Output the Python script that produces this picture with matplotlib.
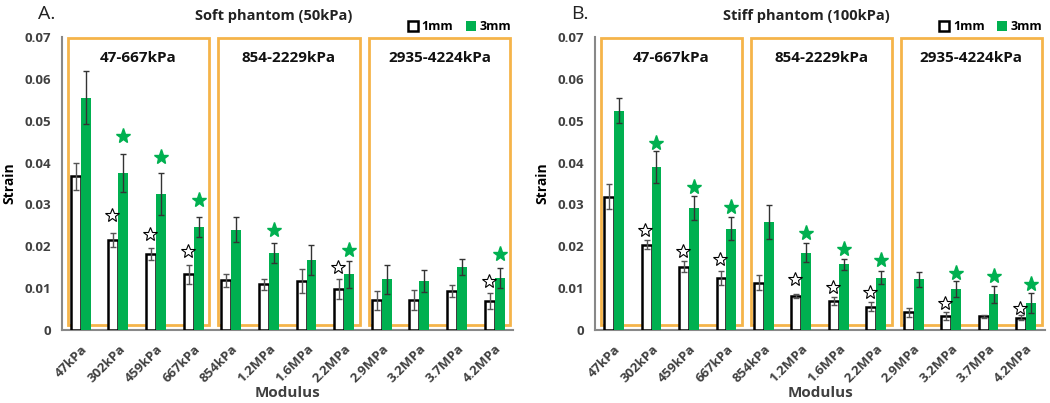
import numpy as np
import matplotlib.pyplot as plt

plt.rcParams['font.family'] = ['Open Sans', 'DejaVu Sans']

# categories
moduli = ['47kPa', '302kPa', '459kPa', '667kPa', '854kPa', '1.2MPa',
          '1.6MPa', '2.2MPa', '2.9MPa', '3.2MPa', '3.7MPa', '4.2MPa']
groups = ['47-667kPa', '854-2229kPa', '2935-4224kPa']

# soft phantom (50kPa)
soft_1mm = [0.0367, 0.0216, 0.0181, 0.0133, 0.0119, 0.0109,
            0.0117, 0.0098, 0.0071, 0.0071, 0.0093, 0.0070]
soft_1mm_err = [0.0033, 0.0017, 0.0014, 0.0022, 0.0015, 0.0013,
                0.0028, 0.0023, 0.0023, 0.0024, 0.0014, 0.0019]
soft_3mm = [0.0555, 0.0375, 0.0325, 0.0246, 0.0240, 0.0184,
            0.0168, 0.0133, 0.0121, 0.0117, 0.0151, 0.0125]
soft_3mm_err = [0.0063, 0.0046, 0.0050, 0.0023, 0.0030, 0.0023,
                0.0036, 0.0032, 0.0035, 0.0027, 0.0019, 0.0024]
# significance stars (None = no star)
soft_star_1mm = [None, 0.0276, 0.0230, 0.0188, None, None,
                 None, 0.0151, None, None, None, 0.0117]
soft_star_3mm = [None, 0.0463, 0.0413, 0.0310, None, 0.0240,
                 None, 0.0192, None, None, None, 0.0181]

# stiff phantom (100kPa)
stiff_1mm = [0.0319, 0.0204, 0.0151, 0.0125, 0.0113, 0.0081,
             0.0069, 0.0056, 0.0042, 0.0033, 0.0033, 0.0029]
stiff_1mm_err = [0.0030, 0.0010, 0.0013, 0.0017, 0.0018, 0.0004,
                 0.0010, 0.0010, 0.0011, 0.0009, 0.0004, 0.0006]
stiff_3mm = [0.0524, 0.0389, 0.0291, 0.0242, 0.0258, 0.0185,
             0.0157, 0.0125, 0.0121, 0.0099, 0.0085, 0.0065]
stiff_3mm_err = [0.0030, 0.0038, 0.0029, 0.0027, 0.0040, 0.0023,
                 0.0013, 0.0016, 0.0018, 0.0019, 0.0021, 0.0024]
stiff_star_1mm = [None, 0.0240, 0.0190, 0.0169, None, 0.0121,
                  0.0102, 0.0090, None, 0.0065, None, 0.0053]
stiff_star_3mm = [None, 0.0447, 0.0342, 0.0294, None, 0.0232,
                  0.0194, 0.0167, None, 0.0137, 0.0129, 0.0111]

GREEN = '#00B050'
ORANGE = '#F5B44A'
GREY = '#404040'


def draw_panel(ax, v1, e1, v3, e3, s1, s3, title, letter):
    x = np.arange(len(moduli))
    w = 0.265
    ax.bar(x - w / 2, v1, w, color='white', edgecolor='black', linewidth=1.8,
           yerr=e1, error_kw=dict(ecolor='#555555', elinewidth=1, capsize=2.5,
                                  capthick=1), label='1mm', zorder=3)
    ax.bar(x + w / 2, v3, w, color=GREEN, edgecolor=GREEN, linewidth=0,
           yerr=e3, error_kw=dict(ecolor='#333333', elinewidth=1, capsize=2.5,
                                  capthick=1), label='3mm', zorder=3)
    for i in range(len(moduli)):
        if s1[i] is not None:
            ax.plot(x[i] - w / 2 - 0.03, s1[i], marker='*', ms=10, mfc='white',
                    mec='black', mew=0.8, zorder=4)
        if s3[i] is not None:
            ax.plot(x[i] + w / 2, s3[i], marker='*', ms=11, mfc=GREEN,
                    mec=GREEN, zorder=4)

    # orange group boxes
    for g, name in enumerate(groups):
        x0 = 4 * g - 0.35
        x1 = 4 * g + 3.42
        ax.add_patch(plt.Rectangle((x0, 0.0012), x1 - x0, 0.0685,
                                   fill=False, edgecolor=ORANGE, lw=2,
                                   zorder=2, clip_on=False))
        ax.text((x0 + x1) / 2, 0.0650, name, ha='center', va='center',
                fontsize=11, fontweight='bold', color='#111111')

    ax.set_xlim(-0.5, 11.5)
    ax.set_ylim(0, 0.07)
    ax.set_yticks([0, 0.01, 0.02, 0.03, 0.04, 0.05, 0.06, 0.07])
    ax.set_yticklabels(['0', '0.01', '0.02', '0.03', '0.04', '0.05',
                        '0.06', '0.07'])
    ax.set_xticks(x)
    ax.set_xticklabels(moduli, rotation=45, ha='right', rotation_mode='anchor')
    for lbl in ax.get_xticklabels():
        lbl.set_fontweight('bold')
        lbl.set_fontsize(9.5)
        lbl.set_color(GREY)
    for lbl in ax.get_yticklabels():
        lbl.set_fontweight('bold')
        lbl.set_fontsize(9.5)
        lbl.set_color(GREY)
    ax.tick_params(length=0, pad=8)
    ax.tick_params(axis='x', pad=9)
    ax.spines['top'].set_visible(False)
    ax.spines['right'].set_visible(False)
    ax.spines['left'].set_color('#888888')
    ax.spines['bottom'].set_color('#888888')
    ax.spines['left'].set_linewidth(1.5)
    ax.spines['bottom'].set_linewidth(1.5)
    ax.set_ylabel('Strain', fontsize=10, fontweight='bold', labelpad=6)
    ax.set_xlabel('Modulus', fontsize=11, fontweight='bold', color=GREY,
                  labelpad=0)
    ax.set_title(title, fontsize=10.5, fontweight='bold', color='#222222',
                 pad=12, x=0.47)
    ax.text(-0.053, 1.08, letter, transform=ax.transAxes, fontsize=14,
            ha='left', va='center', color='#222222')
    ax.legend(loc='lower right', bbox_to_anchor=(1.02, 0.975), ncol=2,
              frameon=False, handlelength=0.8, handleheight=0.8,
              handletextpad=0.3, columnspacing=1.0,
              prop=dict(weight='bold', size=9))


fig = plt.figure(figsize=(10.5, 4.03), dpi=100)
ax1 = fig.add_axes([0.059, 0.181, 0.430, 0.727])
ax2 = fig.add_axes([0.567, 0.181, 0.428, 0.727])

draw_panel(ax1, soft_1mm, soft_1mm_err, soft_3mm, soft_3mm_err,
           soft_star_1mm, soft_star_3mm, 'Soft phantom (50kPa)', 'A.')
draw_panel(ax2, stiff_1mm, stiff_1mm_err, stiff_3mm, stiff_3mm_err,
           stiff_star_1mm, stiff_star_3mm, 'Stiff phantom (100kPa)', 'B.')

fig.savefig('out.png', dpi=100)
